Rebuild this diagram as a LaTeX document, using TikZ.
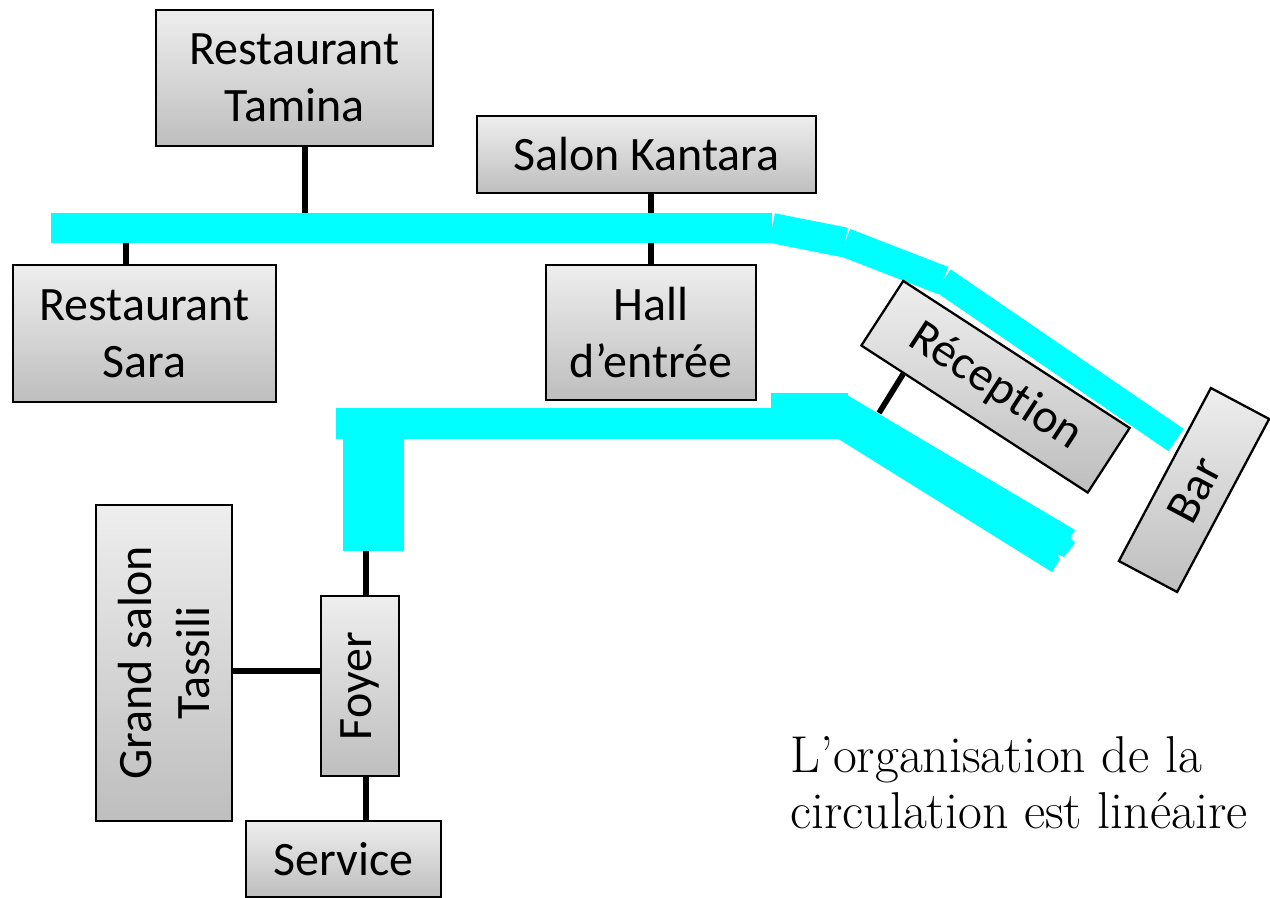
\documentclass[tikz,border=0pt]{standalone}
\usepackage{fontspec}
\setsansfont{Carlito}[Ligatures=NoCommon]
\usetikzlibrary{calc}
\definecolor{boxtop}{RGB}{238,238,238}
\definecolor{boxbot}{RGB}{190,190,190}
\definecolor{corridor}{RGB}{0,255,255}
\begin{document}
\begin{tikzpicture}[x=0.02cm,y=-0.02cm,
  room/.style={draw=black, line width=1.3pt, top color=boxtop, bottom color=boxbot,
    inner sep=0pt, font=\sffamily\fontsize{27.3}{32.5}\selectfont, align=center},
  link/.style={line width=3.2pt, draw=black},
  corr/.style={draw=corridor, line cap=butt},
  corrfill/.style={fill=corridor}]
\useasboundingbox (0,0) rectangle (1270,898);

% corridor coordinates
\coordinate (a0) at (51,228);
\coordinate (a1) at (772,228);
\coordinate (a2) at (845,242.5);
\coordinate (a3) at (943,280.5);
\coordinate (a4) at (1176,440);
\coordinate (t1) at (305,213);
\coordinate (s1) at (126,243);
\coordinate (k1) at (651,213);
\coordinate (k2) at (651,243);
\coordinate (r1) at (879,413);
\coordinate (f1) at (366,551);
\coordinate (g1) at (0,671);

% upper corridor
\draw[corr, line width=0.6cm] (a0) -- (a1);
\draw[corr, line width=0.6cm] (a1) -- (a2);
\draw[corr, line width=0.58cm] (a2) -- (a3);
\draw[corr, line width=0.54cm] (a3) -- (a4);

% lower corridor
\fill[corrfill] (336,408) rectangle (831,439);
\fill[corrfill] (343,439) rectangle (404,551);
\fill[corrfill] (771,393) rectangle (848,439);
\fill[corrfill] (847,395) -- (1075,530) -- (1070,538) -- (1075,543) -- (1064,557)
  -- (1057,554) -- (1060,559) -- (1052,572) -- (832,435) -- cycle;

% rooms
\node[room, minimum width=5.54cm, minimum height=2.72cm] (tamina) at (294.5,78) {Restaurant\\Tamina};
\node[room, minimum width=5.26cm, minimum height=2.74cm] (sara) at (144.5,333.5) {Restaurant\\Sara};
\node[room, minimum width=6.78cm, minimum height=1.54cm] (kantara) at (646.5,154.5) {Salon Kantara};
\node[room, minimum width=4.2cm, minimum height=2.7cm] (hall) at (651,332.5) {Hall\\d’entrée};
\node[room, minimum width=5.4cm, minimum height=1.54cm, rotate=-33] (reception) at (995.5,386.75) {Réception};
\node[room, minimum width=3.92cm, minimum height=1.32cm, rotate=62] (bar) at (1194,490) {Bar};
\node[room, minimum width=6.32cm, minimum height=2.72cm, rotate=90] (grand) at (164,663) {Grand salon\\Tassili};
\node[room, minimum width=3.6cm, minimum height=1.56cm, rotate=90] (foyer) at (360,686) {Foyer};
\node[room, minimum width=3.9cm, minimum height=1.52cm] (service) at (343.5,859) {Service};

% links
\draw[link] (t1 |- tamina.south) -- (t1);
\draw[link] (s1) -- (s1 |- sara.north);
\draw[link] (k1 |- kantara.south) -- (k1);
\draw[link] (k2) -- (k2 |- hall.north);
\draw[link] ($(reception.south west)!0.19!(reception.south east)$) -- (r1);
\draw[link] (f1) -- (f1 |- foyer.east);
\draw[link] (f1 |- foyer.west) -- (f1 |- service.north);
\draw[link] (g1 -| grand.south) -- (g1 -| foyer.north);

% note
\node[anchor=base west, align=left, inner sep=0pt, font=\fontsize{29.5}{31.7}\selectfont] (note) at (790,828)
  {L’organisation de la\\circulation est linéaire};
\end{tikzpicture}
\end{document}
